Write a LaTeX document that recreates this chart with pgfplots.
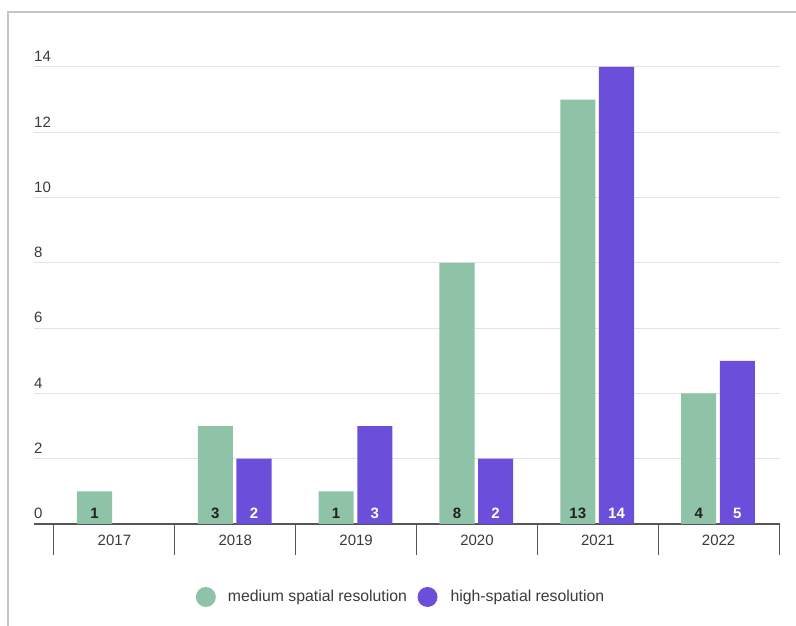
\documentclass[border=0pt]{standalone}
\usepackage{pgfplots}
\pgfplotsset{compat=1.18}
\usepackage{fontspec}
\setmainfont{Liberation Sans}

\definecolor{medgreen}{HTML}{8EC3A7}
\definecolor{highpurple}{HTML}{6B4FDB}
\definecolor{ticktext}{HTML}{3A3A3A}
\definecolor{gridgray}{HTML}{E3E3E3}
\definecolor{axisgray}{HTML}{555555}
\definecolor{framegray}{HTML}{C4C4C4}

\begin{document}
\begin{tikzpicture}[x=1pt,y=1pt]
\path[use as bounding box] (0,0) rectangle (796,626);
% outer frame (top and left edges)
\draw[framegray, line width=2pt] (8,0) -- (8,614) -- (796,614);

\begin{axis}[
  at={(34pt,102pt)}, anchor=south west,
  scale only axis,
  width=746pt, height=457pt,
  xmin=-0.6655, xmax=5.508,
  ymin=0, ymax=14,
  clip=false,
  axis x line*=bottom,
  axis y line*=left,
  x axis line style={draw=axisgray, line width=1.6pt},
  y axis line style={draw=none},
  % category separators as ticks, names centred between them
  xtick={-0.5,0.5,1.5,2.5,3.5,4.5,5.5},
  xticklabels={2017,2018,2019,2020,2021,2022},
  x tick label as interval,
  tick align=outside,
  major tick length=31pt,
  xtick style={draw=axisgray, line width=1pt},
  ytick={0,2,4,6,8,10,12,14},
  ytick style={draw=none},
  ymajorgrids,
  major grid style={draw=gridgray, line width=1pt},
  /pgf/number format/assume math mode=true,
  ticklabel style={font=\fontsize{15}{18}\selectfont, text=ticktext},
  yticklabel style={anchor=south west, inner sep=0pt, xshift=31pt, yshift=5pt},
  xticklabel style={anchor=north, inner sep=0pt, yshift=20pt},
  ybar,
  bar width=0.29,
  nodes near coords,
  visualization depends on=y \as \rawy,
  every node near coord/.append style={anchor=base, inner sep=0pt,
     font=\fontsize{15}{18}\selectfont\bfseries,
     shift={(axis direction cs:0,-\rawy)}, yshift=5.5pt},
  legend columns=2,
  legend style={at={(0.492,-0.1597)}, anchor=center, draw=none, fill=none,
     font=\fontsize{15.8}{18}\selectfont, text=ticktext,
     /tikz/every even column/.append style={column sep=8.5pt},
     /tikz/every odd column/.append style={column sep=0pt}},
  legend cell align=left,
]
\addplot[fill=medgreen, draw=none, bar shift=-0.165,
  every node near coord/.append style={text=black!87},
  legend image code/.code={\fill[medgreen] (0pt,0pt) circle (10pt);}]
  coordinates {(0,1) (1,3) (2,1) (3,8) (4,13) (5,4)};
\addlegendentry{\hspace{10pt}medium spatial resolution}
\addplot[fill=highpurple, draw=none, bar shift=0.155,
  every node near coord/.append style={text=white},
  legend image code/.code={\fill[highpurple] (0pt,0pt) circle (10pt);}]
  coordinates {(1,2) (2,3) (3,2) (4,14) (5,5)};
\addlegendentry{\hspace{11pt}high-spatial resolution}
\end{axis}
\end{tikzpicture}
\end{document}
